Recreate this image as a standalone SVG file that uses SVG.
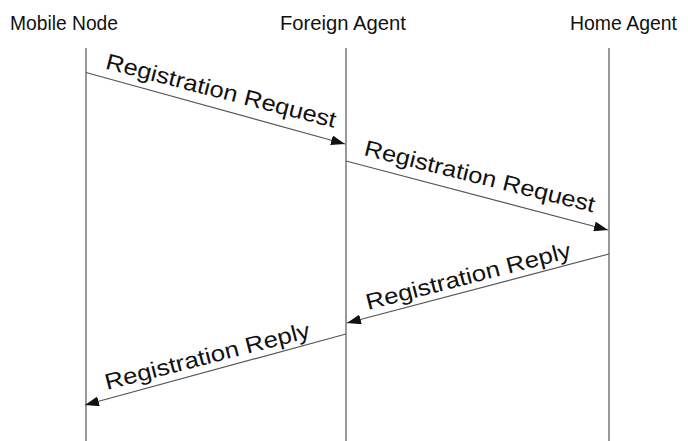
<svg xmlns="http://www.w3.org/2000/svg" width="688" height="441" viewBox="0 0 688 441">
  <style>
    .head { font-family: "Liberation Sans", Arial, sans-serif; font-size: 21px; fill: #111; }
    .msg { font-family: "Liberation Sans", Arial, sans-serif; font-size: 22.5px; fill: #111; }
    .life { stroke: #333; stroke-width: 1; fill: none; }
    .arrow { stroke: #555; stroke-width: 1.2; fill: none; marker-end: url(#head); }
  </style>
  <defs>
    <marker id="head" viewBox="0 0 14 10" refX="14" refY="5" markerWidth="14" markerHeight="10" markerUnits="userSpaceOnUse" orient="auto">
      <path d="M0,0 L14,5 L0,10 Z" fill="#111"/>
    </marker>
  </defs>
  <rect width="688" height="441" fill="#fff"/>

  <g id="mobile-node">
    <text class="head" x="10" y="30" textLength="108" lengthAdjust="spacingAndGlyphs">Mobile Node</text>
    <line class="life" x1="86" y1="48" x2="86" y2="441"/>
  </g>
  <g id="foreign-agent">
    <text class="head" x="280" y="30" textLength="126" lengthAdjust="spacingAndGlyphs">Foreign Agent</text>
    <line class="life" x1="346" y1="48" x2="346" y2="441"/>
  </g>
  <g id="home-agent">
    <text class="head" x="570" y="30" textLength="107" lengthAdjust="spacingAndGlyphs">Home Agent</text>
    <line class="life" x1="609" y1="48" x2="609" y2="441"/>
  </g>

  <g id="connectors">
    <line class="arrow" x1="86" y1="72.5" x2="345" y2="144"/>
    <line class="arrow" x1="346" y1="161" x2="608" y2="230"/>
    <line class="arrow" x1="609" y1="254" x2="347" y2="323"/>
    <line class="arrow" x1="346" y1="334" x2="85" y2="405"/>
  </g>

  <g id="labels">
    <text class="msg" transform="translate(104.5,68.5) rotate(14.5)" textLength="237" lengthAdjust="spacingAndGlyphs">Registration Request</text>
    <text class="msg" transform="translate(363,155) rotate(14)" textLength="237" lengthAdjust="spacingAndGlyphs">Registration Request</text>
    <text class="msg" transform="translate(368,310) rotate(-14.5)" textLength="211" lengthAdjust="spacingAndGlyphs">Registration Reply</text>
    <text class="msg" transform="translate(107,390) rotate(-14.5)" textLength="211" lengthAdjust="spacingAndGlyphs">Registration Reply</text>
  </g>
</svg>
